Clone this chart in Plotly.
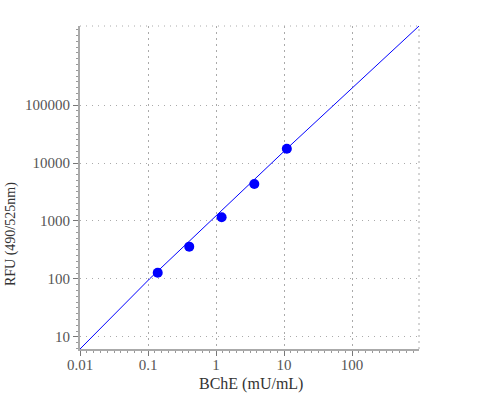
"""BChE standard curve (log-log)"""
import plotly.graph_objects as go

# measured standards
bche = [0.139, 0.404, 1.21, 3.66, 11.0]
rfu = [128, 361, 1160, 4345, 17660]

# fitted line
fit_x = [0.01, 0.105, 11.0, 966]
fit_y = [6.2, 100, 17660, 2300000]

x_ticks = [0.01, 0.1, 1, 10, 100]
y_ticks = [10, 100, 1000, 10000, 100000]

# minor ticks every 0.1 decade
x_minor = [10 ** (k / 10) for k in range(-20, 30)]
y_minor = [10 ** (k / 10) for k in range(7, 64)]

fig = go.Figure()

fig.add_trace(
    go.Scatter(
        x=fit_x,
        y=fit_y,
        mode='lines',
        line=dict(color='blue', width=1),
        showlegend=False
    )
)

fig.add_trace(
    go.Scatter(
        x=bche,
        y=rfu,
        mode='markers',
        marker=dict(color='blue', size=10),
        showlegend=False
    )
)

axis_style = dict(
    type='log',
    showline=True,
    linecolor='#aaaaaa',
    linewidth=2,
    ticks='outside',
    ticklen=5,
    tickcolor='#777777',
    tickfont=dict(family='Liberation Serif', size=15, color='#555555'),
    showgrid=True,
    gridcolor='#aaaaaa',
    gridwidth=1,
    zeroline=False,
    automargin=False,
    tickmode='array',
)

fig.update_xaxes(
    **axis_style,
    tickvals=x_ticks,
    ticktext=[str(v) for v in x_ticks],
    ticklabelstandoff=-4,
    griddash='2px,4px',
    minor=dict(tickmode='array', tickvals=x_minor, ticks='outside',
               ticklen=2, tickcolor='#999999', showgrid=False),
    range=[-2, 2.985],
)
fig.update_yaxes(
    **axis_style,
    tickvals=y_ticks,
    ticktext=[str(v) for v in y_ticks],
    griddash='1px,5px',
    minor=dict(tickmode='array', tickvals=y_minor, ticks='outside',
               ticklen=2, tickcolor='#999999', showgrid=False),
    range=[0.793, 6.362],
)

# 軸タイトル
fig.add_annotation(
    text='BChE (mU/mL)',
    xref='paper', yref='paper',
    x=0.504, y=-0.108,
    showarrow=False,
    xanchor='center', yanchor='middle',
    font=dict(family='Liberation Serif', size=16, color='#333333')
)
fig.add_annotation(
    text='RFU (490/525nm)',
    xref='paper', yref='paper',
    x=-0.2035, y=0.356,
    textangle=-90,
    showarrow=False,
    xanchor='center', yanchor='middle',
    font=dict(family='Liberation Serif', size=14, color='#333333')
)

# dotted frame on top and right
fig.add_shape(type='line', xref='x domain', yref='y domain', x0=0, x1=1, y0=1, y1=1,
              line=dict(color='#aaaaaa', width=1, dash='1px,5px'))
fig.add_shape(type='line', xref='x domain', yref='y domain', x0=1, x1=1, y0=0, y1=1,
              line=dict(color='#aaaaaa', width=1, dash='2px,4px'))

fig.update_layout(
    width=500,
    height=400,
    margin=dict(l=80, r=81, t=26, b=51),
    plot_bgcolor='white',
    paper_bgcolor='white',
    font=dict(family='Liberation Serif')
)

# ページ余白をなくしてグラフを左上に合わせる
fig.write_html(
    "out.html",
    config={'displayModeBar': False},
    post_script="document.body.style.margin = '0';"
)
